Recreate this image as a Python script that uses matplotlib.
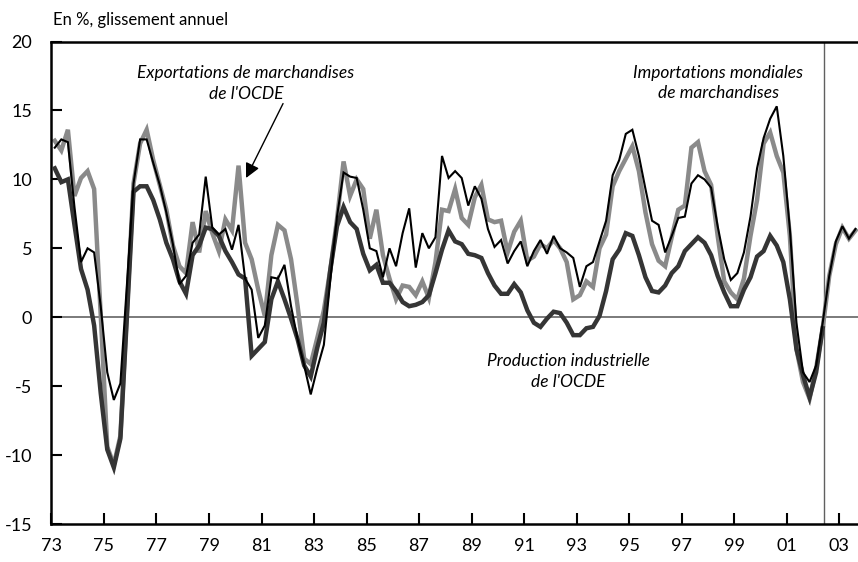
import matplotlib
matplotlib.use('Agg')

import numpy as np
import matplotlib.pyplot as plt

plt.rcParams['font.family'] = ['Lato', 'DejaVu Sans']
plt.rcParams['axes.unicode_minus'] = False

#### ====================  data (quarterly, % y/y), first point 1973Q1
start_year = 1973

imports_world = [
    12.3, 12.9, 12.7, 8.0, 4.0, 5.0, 4.7, 0.8, -4.0, -6.0,
    -4.8, 2.4, 9.7, 12.9, 12.9, 11.2, 9.6, 7.6, 5.3, 2.4,
    3.0, 5.4, 6.0, 10.2, 6.5, 6.0, 6.4, 4.9, 6.7, 2.8,
    2.0, -1.5, -0.6, 2.9, 2.8, 3.8, 0.8, -1.6, -3.5, -5.6,
    -3.7, -2.0, 2.8, 7.3, 10.5, 10.2, 10.1, 7.8, 5.0, 4.8,
    2.9, 5.0, 3.7, 6.1, 7.9, 3.6, 6.1, 5.0, 5.8, 11.7,
    10.1, 10.6, 10.1, 8.1, 9.5, 8.6, 6.4, 5.1, 5.6, 3.9,
    4.8, 5.5, 3.7, 4.8, 5.6, 4.6, 5.9, 5.0, 4.7, 4.3,
    2.2, 3.7, 4.0, 5.5, 7.0, 10.3, 11.4, 13.3, 13.6, 11.7,
    9.3, 7.0, 6.7, 4.7, 5.9, 7.2, 7.3, 9.7, 10.3, 10.0,
    9.4, 6.6, 4.2, 2.7, 3.2, 4.7, 7.3, 10.8, 13.0, 14.4,
    15.3, 11.7, 6.4, -0.4, -4.0, -4.7, -3.5, -0.4, 3.0, 5.5,
    6.6, 5.7, 6.4,
]

exports_oecd = [
    12.8, 12.1, 13.6, 8.8, 10.1, 10.6, 9.3, 0.2, -9.4, -10.7,
    -8.6, 0.5, 9.7, 12.6, 13.6, 11.4, 9.6, 7.8, 5.2, 3.7,
    3.2, 6.9, 4.7, 7.7, 6.1, 4.8, 7.1, 6.3, 11.0, 5.4,
    4.2, 2.0, 0.1, 4.5, 6.7, 6.3, 4.2, 0.8, -3.0, -3.4,
    -1.5, 0.5, 3.5, 7.1, 11.3, 8.8, 10.0, 9.3, 5.7, 7.8,
    4.5, 2.8, 1.3, 2.3, 2.2, 1.6, 2.6, 1.4, 4.0, 7.8,
    7.7, 9.3, 7.2, 6.7, 8.7, 9.6, 7.1, 6.9, 7.0, 4.7,
    6.2, 7.0, 4.1, 4.4, 5.3, 5.0, 5.6, 5.0, 4.0, 1.3,
    1.6, 2.6, 2.2, 5.0, 6.0, 9.5, 10.6, 11.5, 12.4, 10.6,
    7.6, 5.3, 4.1, 3.7, 5.8, 7.8, 8.1, 12.3, 12.7, 10.6,
    9.6, 5.9, 2.6, 1.8, 1.3, 2.8, 5.9, 8.5, 12.6, 13.4,
    11.7, 10.5, 5.9, -2.3, -4.7, -5.9, -3.7, -0.8, 3.0, 5.3,
    6.5, 5.7, 6.3,
]

industrial_prod = [
    10.8, 9.8, 10.0, 6.7, 3.5, 2.0, -0.6, -5.5, -9.6, -10.9,
    -8.8, 0.1, 9.1, 9.5, 9.5, 8.5, 7.1, 5.4, 4.2, 2.6,
    1.7, 4.5, 5.2, 6.5, 6.4, 5.9, 4.8, 4.0, 3.1, 2.8,
    -2.8, -2.3, -1.8, 1.3, 2.6, 1.3, -0.1, -1.6, -3.5, -4.3,
    -2.2, -0.4, 3.5, 6.6, 8.0, 6.9, 6.4, 4.6, 3.4, 3.8,
    2.5, 2.5, 1.9, 1.1, 0.8, 0.9, 1.1, 1.6, 3.2, 4.9,
    6.3, 5.5, 5.3, 4.6, 4.5, 4.3, 3.2, 2.3, 1.7, 1.7,
    2.4, 1.8, 0.5, -0.4, -0.7, -0.1, 0.4, 0.3, -0.4, -1.3,
    -1.3, -0.8, -0.7, 0.1, 1.9, 4.2, 4.9, 6.1, 5.9, 4.5,
    2.9, 1.9, 1.8, 2.3, 3.2, 3.7, 4.8, 5.3, 5.8, 5.4,
    4.5, 3.0, 1.8, 0.8, 0.8, 2.0, 2.9, 4.4, 4.8, 5.9,
    5.2, 4.0, 1.3, -2.3, -4.2, -5.8, -4.0, -0.8,
]

year_ticks  = list(range(1973, 2004, 2))
year_labels = ['73', '75', '77', '79', '81', '83', '85', '87', '89', '91',
               '93', '95', '97', '99', '01', '03']
forecast_start = 2002.43

# quarters plotted at mid-quarter
def quarters(n):
    return start_year + 0.125 + 0.25 * np.arange(n)


#### ====================  plot
fig = plt.figure(figsize=(8.58, 5.62), dpi=100)
ax = fig.add_axes([0.060, 0.0676, 0.940, 0.8585])

ax.axhline(0, color='#707070', lw=1.3, zorder=1)
ax.axvline(forecast_start, color='#606060', lw=1.0, zorder=1)

ax.plot(quarters(len(exports_oecd)), exports_oecd, color='#8a8a8a', lw=3.2,
        solid_joinstyle='miter', zorder=2)
ax.plot(quarters(len(industrial_prod)), industrial_prod, color='#353535', lw=3.2,
        solid_joinstyle='miter', zorder=3)
ax.plot(quarters(len(imports_world)), imports_world, color='black', lw=1.5,
        solid_joinstyle='miter', zorder=4)

ax.set_xlim(1973.0, 2003.72)
ax.set_ylim(-15, 20)
ax.set_yticks(range(-15, 21, 5))
ax.set_xticks(year_ticks)
ax.set_xticklabels(year_labels)

for s in ['left', 'bottom', 'top']:
    ax.spines[s].set_linewidth(1.8)
ax.spines['right'].set_visible(False)

ax.tick_params(axis='both', direction='in', length=8, width=1.5, labelsize=13)
ax.tick_params(axis='y', pad=14)
ax.tick_params(axis='x', pad=10)
ax.tick_params(top=False)

fig.text(0.062, 0.965, 'En %, glissement annuel', fontsize=12, ha='left', va='center')

ax.text(1980.41, 16.95, "Exportations de marchandises\nde l'OCDE", style='italic',
        fontsize=12.5, ha='center', va='center', linespacing=1.35)
ax.text(1998.39, 16.99, "Importations mondiales\nde marchandises", style='italic',
        fontsize=12.5, ha='center', va='center', linespacing=1.35)
ax.text(1992.68, -3.95, "Production industrielle\nde l'OCDE", style='italic',
        fontsize=12.5, ha='center', va='center', linespacing=1.35)

ax.annotate('', xy=(1980.41, 10.1), xytext=(1981.82, 15.5),
            arrowprops=dict(arrowstyle='-|>', color='black', lw=1.0,
                            mutation_scale=22, shrinkA=0, shrinkB=0))

fig.savefig('out.png', dpi=100)
